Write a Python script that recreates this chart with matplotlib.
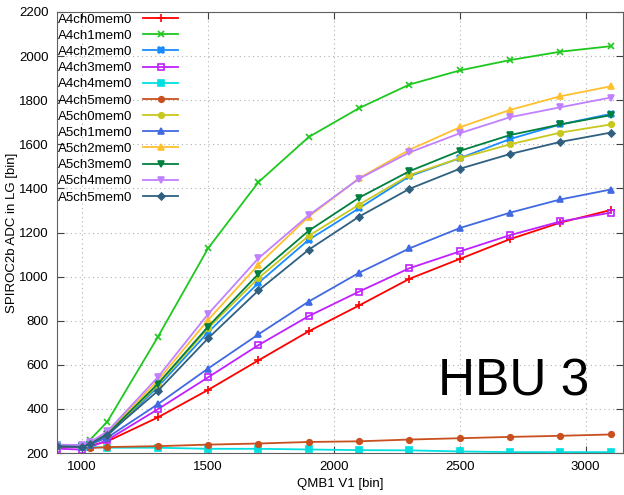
import matplotlib
matplotlib.use("Agg")
import matplotlib.pyplot as plt

plt.rcParams['font.family'] = ['Liberation Sans', 'DejaVu Sans']

x = [900, 1000, 1030, 1100, 1300, 1500, 1700, 1900, 2100, 2300, 2500, 2700, 2900, 3100]

names = ["A4ch0mem0", "A4ch1mem0", "A4ch2mem0", "A4ch3mem0", "A4ch4mem0", "A4ch5mem0",
         "A5ch0mem0", "A5ch1mem0", "A5ch2mem0", "A5ch3mem0", "A5ch4mem0", "A5ch5mem0"]

A4ch0 = [228, 225, 232, 253, 361, 486, 620, 752, 869, 990, 1080, 1170, 1245, 1302]
A4ch1 = [232, 235, 258, 342, 725, 1128, 1428, 1633, 1764, 1871, 1935, 1982, 2020, 2045]
A4ch2 = [230, 230, 240, 278, 499, 747, 971, 1167, 1310, 1455, 1537, 1624, 1690, 1738]
A4ch3 = [220, 215, 225, 259, 398, 543, 689, 821, 932, 1038, 1114, 1188, 1250, 1290]
A4ch4 = [235, 232, 228, 224, 224, 219, 219, 216, 213, 212, 207, 204, 204, 204]
A4ch5 = [230, 226, 222, 227, 231, 238, 243, 250, 253, 261, 267, 273, 278, 284]
A5ch0 = [233, 232, 242, 282, 508, 765, 993, 1185, 1326, 1460, 1537, 1600, 1653, 1690]
A5ch1 = [230, 228, 238, 270, 421, 583, 738, 887, 1017, 1128, 1220, 1290, 1350, 1395]
A5ch2 = [237, 235, 245, 293, 528, 803, 1054, 1272, 1446, 1575, 1677, 1756, 1818, 1863]
A5ch3 = [232, 230, 243, 286, 513, 773, 1012, 1208, 1358, 1478, 1570, 1642, 1690, 1732]
A5ch4 = [238, 236, 248, 298, 543, 830, 1083, 1278, 1444, 1563, 1650, 1723, 1768, 1812]
A5ch5 = [230, 228, 240, 283, 481, 720, 937, 1122, 1272, 1398, 1489, 1556, 1611, 1653]

series = [A4ch0, A4ch1, A4ch2, A4ch3, A4ch4, A4ch5, A5ch0, A5ch1, A5ch2, A5ch3, A5ch4, A5ch5]
colors = ["#ff0000", "#1ec81e", "#1a8cff", "#c020ff", "#00e0e0", "#c8501e",
          "#c8c81e", "#4169e1", "#ffc030", "#008040", "#c080ff", "#306080"]
markers = ["+", "x", "X", "s", "s", "o", "o", "^", "^", "v", "v", "D"]
filled = [True, True, True, False, True, True, True, True, True, True, True, True]
msizes = [6, 5, 5, 5, 5, 4, 4, 5, 5, 5, 5, 3.5]

xticks = [1000, 1500, 2000, 2500, 3000]
yticks = [200, 400, 600, 800, 1000, 1200, 1400, 1600, 1800, 2000, 2200]

fig = plt.figure(figsize=(6.24, 4.95), dpi=100)
ax = fig.add_axes([57/624, 42/495, 1 - 57/624 - 0.001, (453-12)/495])

for name, ys, c, m, f, ms in zip(names, series, colors, markers, filled, msizes):
    ax.plot(x, ys, color=c, marker=m, markersize=ms, linewidth=1.3,
            markerfacecolor=(c if f else 'none'), markeredgecolor=c,
            markeredgewidth=1.2, label=name, clip_on=True)

ax.set_xlim(900, 3150)
ax.set_ylim(200, 2200)
ax.set_xticks(xticks)
ax.set_yticks(yticks)
ax.grid(True, linestyle=(0, (1, 3)), color='#b0b0b0', linewidth=0.8)
ax.tick_params(direction='in', top=True, right=True, labelsize=9.5, length=5,
               color='#404040', pad=6)
for s in ax.spines.values():
    s.set_color('#606060')
ax.set_xlabel("QMB1 V1 [bin]", fontsize=9.5, labelpad=3)
ax.set_ylabel("SPIROC2b ADC in LG [bin]", fontsize=9.5)
ax.yaxis.set_label_coords(-0.069, 0.5)

leg = ax.legend(loc='upper left', frameon=False, markerfirst=False, fontsize=9.5,
                handlelength=2.6, handletextpad=0.8, labelspacing=0.3,
                borderaxespad=0.0, borderpad=0.1)

ax.text(2715, 522, "HBU 3", fontsize=37, ha='center', va='center')

fig.savefig("out.png", dpi=100)
